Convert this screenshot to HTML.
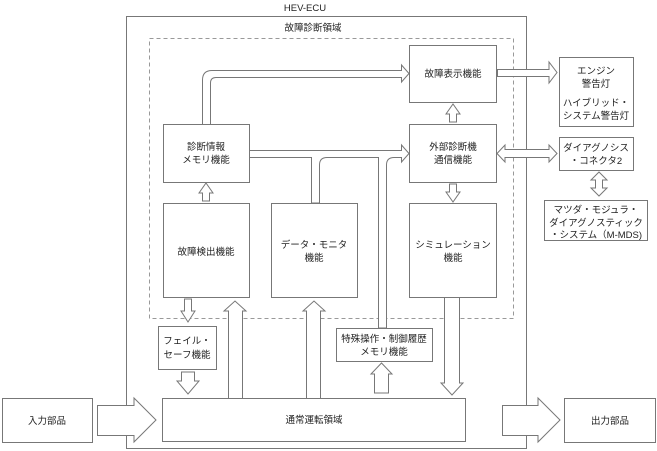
<!DOCTYPE html>
<html><head><meta charset="utf-8"><style>
html,body{margin:0;padding:0;background:#fff;}
svg{display:block;}
text{font-family:"Liberation Sans","Noto Sans CJK JP",sans-serif;font-size:9.5px;fill:#222;text-anchor:middle;}
.b{fill:#fff;stroke:#777;stroke-width:1;}
.a{fill:#fff;stroke:#777;stroke-width:1;stroke-linejoin:miter;}
</style></head><body>
<svg width="657" height="451" viewBox="0 0 657 451" xmlns="http://www.w3.org/2000/svg">
<rect class="b" x="126.5" y="16.5" width="400" height="432"/>
<text x="305" y="11">HEV-ECU</text>
<text x="313" y="31">故障診断領域</text>
<rect x="149.5" y="38.5" width="364" height="280" fill="none" stroke="#999" stroke-dasharray="4,3"/>

<!-- boxes -->
<rect class="b" x="409.5" y="45.5" width="87" height="57"/>
<text x="453" y="77">故障表示機能</text>
<rect class="b" x="409.5" y="124.5" width="87" height="58"/>
<text x="453" y="150">外部診断機</text><text x="453" y="163">通信機能</text>
<rect class="b" x="163.5" y="124.5" width="86" height="58"/>
<text x="206" y="150">診断情報</text><text x="206" y="163">メモリ機能</text>
<rect class="b" x="163.5" y="203.5" width="86" height="94"/>
<text x="206" y="255">故障検出機能</text>
<rect class="b" x="271.5" y="203.5" width="86" height="94"/>
<text x="314" y="248">データ・モニタ</text><text x="314" y="261">機能</text>
<rect class="b" x="409.5" y="203.5" width="87" height="94"/>
<text x="453" y="248">シミュレーション</text><text x="453" y="261">機能</text>
<rect class="b" x="158.5" y="326.5" width="58" height="43"/>
<text x="187" y="344">フェイル・</text><text x="187" y="358">セーフ機能</text>
<rect class="b" x="336.5" y="328.5" width="96" height="33"/>
<text x="384" y="342">特殊操作・制御履歴</text><text x="384" y="355">メモリ機能</text>
<rect class="b" x="162.5" y="398.5" width="303" height="43"/>
<text x="314" y="423">通常運転領域</text>
<rect class="b" x="2.5" y="398.5" width="90" height="44"/>
<text x="47" y="424">入力部品</text>
<rect class="b" x="564.5" y="398.5" width="91" height="44"/>
<text x="610" y="424">出力部品</text>
<rect class="b" x="559.5" y="57.5" width="74" height="69"/>
<text x="596" y="74">エンジン</text><text x="596" y="87">警告灯</text>
<text x="596" y="106">ハイブリッド・</text><text x="596" y="119">システム警告灯</text>
<rect class="b" x="559.5" y="137.5" width="74" height="33"/>
<text x="596" y="151">ダイアグノシス</text><text x="596" y="164">・コネクタ2</text>
<rect class="b" x="544.5" y="200.5" width="103" height="40"/>
<text x="596" y="213">マツダ・モジュラ・</text><text x="596" y="226">ダイアグノスティック</text><text x="596" y="238">・システム（M-MDS)</text>

<!-- curved arrows -->
<path class="a" d="M202.5,124 V80 Q202.5,70.5 212,70.5 H401.5 V65 L409,73.5 L401.5,82 V77.5 H216 Q210.5,77.5 210.5,83 V124"/>
<path class="a" d="M249.5,150.5 H401.5 V145 L409,153.5 L401.5,162 V157.5 H394 Q386.5,157.5 386.5,165 V328 H378.5 V157.5 H327 Q319.5,157.5 319.5,165 V203 H311.5 V157.5 H249.5 Z"/>

<!-- small vertical arrows -->
<path class="a" d="M449.5,122 V114 H446 L453,104 L460,114 H456.5 V122 Z"/>
<path class="a" d="M449.5,184 V192 H446 L453,202 L460,192 H456.5 V184 Z"/>
<path class="a" d="M202.5,201 V193 H199 L206,183 L213,193 H209.5 V201 Z"/>
<path class="a" d="M184.5,299 V311 H181 L188,322 L195,311 H191.5 V299 Z"/>
<path class="a" d="M181.5,372 V381 H177 L188,394 L199,381 H194.5 V372 Z"/>
<!-- up arrows from 通常 -->
<path class="a" d="M228.5,398 V311 H224 L235,301 L246,311 H242.5 V398"/>
<path class="a" d="M306.5,398 V311 H303 L314,301 L325,311 H320.5 V398"/>
<path class="a" d="M374.5,393 V374 H371 L381.5,363 L392,374 H388.5 V393 Z"/>
<path class="a" d="M444.5,298 V383 H441 L452,395 L463,383 H459.5 V298"/>

<!-- input/output -->
<path class="a" d="M97.5,405.5 H134 V398 L156,420 L134,442 V435.5 H97.5 Z"/>
<path class="a" d="M502.5,405.5 H538 V398 L560,420 L538,442 V435.5 H502.5 Z"/>

<!-- right side arrows -->
<path class="a" d="M497.5,69.5 H549 V62 L557,72.5 L549,83 V76.5 H497.5 Z"/>
<path class="a" d="M497,153.5 L505,145 V149.5 H549 V145 L557,153.5 L549,162 V157.5 H505 V162 Z"/>
<path class="a" d="M599,172 L607,180 H602.5 V188 H607 L599,196 L591,188 H595.5 V180 H591 Z"/>
</svg>
</body></html>
